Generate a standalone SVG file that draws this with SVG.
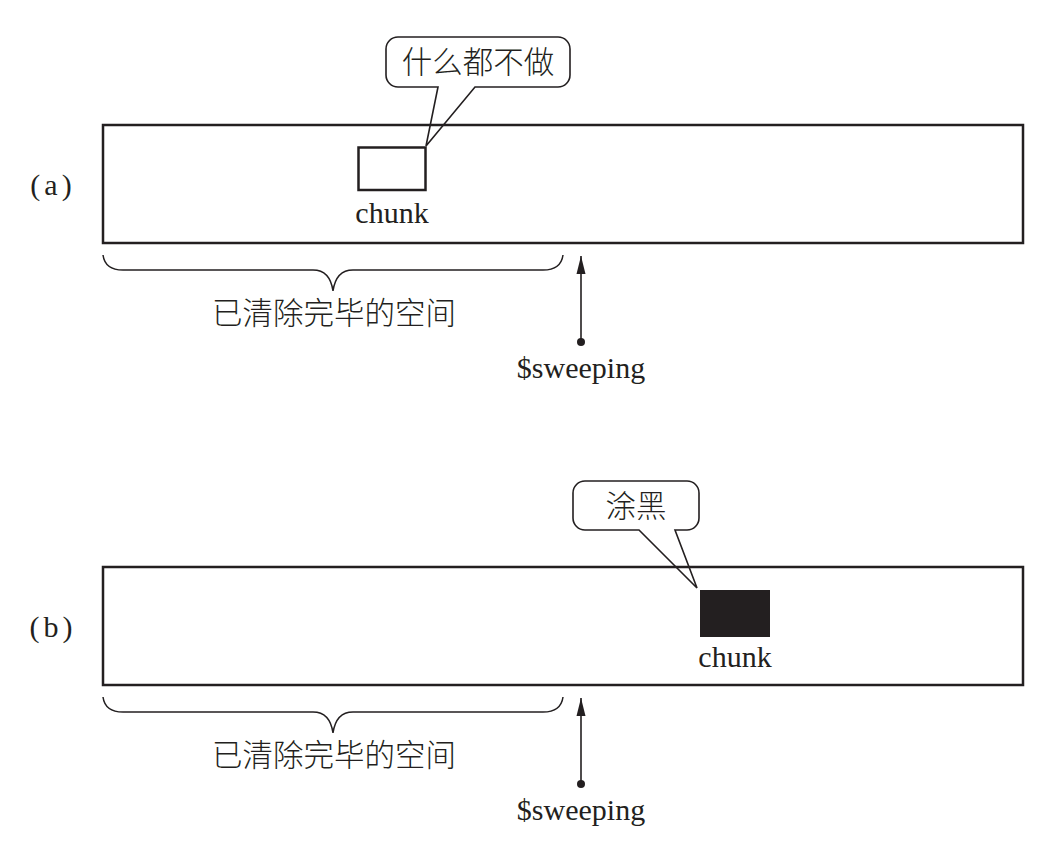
<svg xmlns="http://www.w3.org/2000/svg" width="1054" height="844" viewBox="0 0 1054 844">
<style>
.panel{fill:none;stroke:#231f20;stroke-width:2.5}
.callout{fill:#fff;stroke:#231f20;stroke-width:1.6;stroke-linejoin:miter}
.brace{fill:none;stroke:#231f20;stroke-width:1.5}
.conn{stroke:#231f20;stroke-width:1.6;fill:none}
.lat{font-family:"Liberation Serif",serif;font-size:30px;fill:#231f20;text-anchor:middle}
.lbl{font-family:"Liberation Serif",serif;font-size:30px;fill:#231f20;text-anchor:middle;letter-spacing:4px}
.cjk{font-family:"Noto Sans CJK SC",sans-serif;font-size:30.5px;fill:#231f20;text-anchor:middle;font-weight:300}
</style>
<defs>
<marker id="ah" markerWidth="18" markerHeight="10" refX="18" refY="5" orient="auto" markerUnits="userSpaceOnUse" viewBox="0 0 18 10">
<path d="M18,5 L0,0.5 L0,9.5 Z" fill="#231f20"/>
</marker>
</defs>
<rect width="1054" height="844" fill="#fff"/>

<g id="panel-a">
<g id="callout-a">
<path class="callout" d="M398,37 H558 A12,12 0 0 1 570,49 V75 A12,12 0 0 1 558,87 H475 L426,146 L438,87 H398 A12,12 0 0 1 386,75 V49 A12,12 0 0 1 398,37 Z"/>
<text class="cjk" x="478" y="73">什么都不做</text>
</g>
<rect id="heap-a" class="panel" x="103" y="125" width="920" height="118"/>
<g id="chunk-a">
<rect x="358.5" y="147.5" width="67" height="42.5" fill="#fff" stroke="#231f20" stroke-width="2.5"/>
<text class="lat" x="392" y="223">chunk</text>
</g>
<text id="label-a" class="lbl" x="53" y="195">(a)</text>
<g id="brace-a">
<path class="brace" d="M103,255 Q105,270 123,270 H313 Q330,270 333,291 Q336,270 353,270 H543 Q561,270 563,255"/>
<text class="cjk" x="334" y="324">已清除完毕的空间</text>
</g>
<g id="sweeping-a">
<circle cx="581" cy="342" r="4" fill="#231f20"/>
<text class="lat" x="581" y="378">$sweeping</text>
</g>
</g>

<g id="panel-b">
<g id="callout-b">
<path class="callout" d="M585,481 H687 A12,12 0 0 1 699,493 V518 A12,12 0 0 1 687,530 H675 L697,588 L639,530 H585 A12,12 0 0 1 573,518 V493 A12,12 0 0 1 585,481 Z"/>
<text class="cjk" x="636" y="517">涂黑</text>
</g>
<rect id="heap-b" class="panel" x="103" y="567" width="920" height="118"/>
<g id="chunk-b">
<rect x="700" y="590" width="70" height="47" fill="#231f20"/>
<text class="lat" x="735" y="667">chunk</text>
</g>
<text id="label-b" class="lbl" x="53" y="637">(b)</text>
<g id="brace-b">
<path class="brace" d="M103,697 Q105,712 123,712 H313 Q330,712 333,733 Q336,712 353,712 H543 Q561,712 563,697"/>
<text class="cjk" x="334" y="766">已清除完毕的空间</text>
</g>
<g id="sweeping-b">
<circle cx="581" cy="784" r="4" fill="#231f20"/>
<text class="lat" x="581" y="820">$sweeping</text>
</g>
</g>

<g id="connectors">
<line class="conn" x1="581" y1="342" x2="581" y2="256" marker-end="url(#ah)"/>
<line class="conn" x1="581" y1="784" x2="581" y2="698" marker-end="url(#ah)"/>
</g>
</svg>
